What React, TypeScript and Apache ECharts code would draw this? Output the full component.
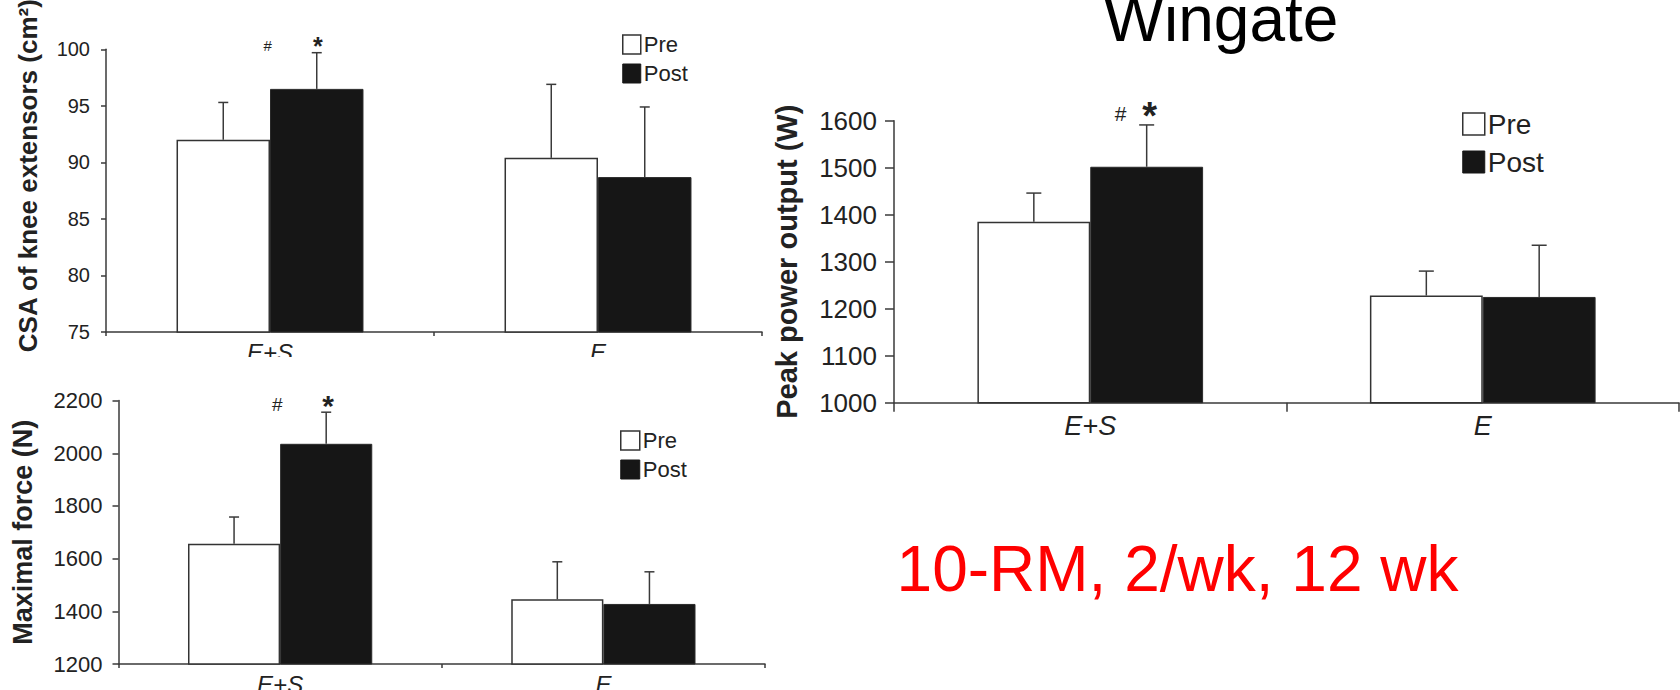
import React, { useEffect, useRef } from "react";
import * as echarts from "echarts";

// ---------- data ----------
const categories = ["E+S", "E"];
const groupNames = ["Pre", "Post"];

// Panel A: CSA of knee extensors (cm²)
const csaPre = [92.0, 90.4];
const csaPost = [96.5, 88.7];
const csaPreErrTop = [95.3, 96.9];
const csaPostErrTop = [99.7, 94.9];
const csaAxis = [75, 100, 5];

// Panel B: Maximal force (N)
const forcePre = [1657, 1446];
const forcePost = [2036, 1428];
const forcePreErrTop = [1758, 1588];
const forcePostErrTop = [2156, 1550];
const forceAxis = [1200, 2200, 200];

// Panel C: Wingate peak power output (W)
const powerPre = [1385, 1228];
const powerPost = [1502, 1225];
const powerPreErrTop = [1446, 1280];
const powerPostErrTop = [1591, 1335];
const powerAxis = [1000, 1600, 100];

// significance markers (per category, on the Post bar)
const hashMarks = ["#", ""];
const starMarks = ["*", ""];

const titleText = "Wingate";
const noteText = "10-RM, 2/wk, 12 wk";

const FONT = "'Liberation Sans', Arial, Helvetica, sans-serif";
const INK = "#222";
const LINE = "#3a3a3a";

type Panel = {
  pre: number[];
  post: number[];
  preTop: number[];
  postTop: number[];
  axis: number[];
  yName: string;
  grid: { left: number; top: number; width: number; height: number };
  gap: number;
  nameGap: number;
  nameSize: number;
  namePad: number[];
  tickSize: number;
  tickMargin: number;
  yTickLen: number;
  xTickLen: number;
  xSize: number;
  xMargin: number;
  legend: { left: number; top: number; w: number; h: number; gap: number; size: number };
  cap: number;
  hash: { dx: number; dy: number; size: number };
  star: { dx: number; dy: number; size: number };
};

const panels: Panel[] = [
  {
    pre: csaPre, post: csaPost, preTop: csaPreErrTop, postTop: csaPostErrTop, axis: csaAxis,
    yName: "CSA of knee extensors (cm²)",
    grid: { left: 106, top: 49.3, width: 656, height: 282.7 },
    gap: 0.43, nameGap: 65, nameSize: 26, namePad: [0, 0, 0, 30],
    tickSize: 20, tickMargin: 16, yTickLen: 5, xTickLen: 4, xSize: 24, xMargin: 8,
    legend: { left: 622, top: 33.5, w: 18, h: 19, gap: 7, size: 22 },
    cap: 10,
    hash: { dx: -49, dy: -7, size: 15 },
    star: { dx: 1, dy: -7, size: 25 },
  },
  {
    pre: forcePre, post: forcePost, preTop: forcePreErrTop, postTop: forcePostErrTop, axis: forceAxis,
    yName: "Maximal force (N)",
    grid: { left: 118.5, top: 400.6, width: 646.5, height: 263.4 },
    gap: 0.43, nameGap: 82, nameSize: 27, namePad: [0, 0, 0, 0],
    tickSize: 22, tickMargin: 16, yTickLen: 6, xTickLen: 4, xSize: 24, xMargin: 8,
    legend: { left: 620, top: 429.5, w: 19, h: 19, gap: 7, size: 22 },
    cap: 10,
    hash: { dx: -49, dy: -8, size: 19 },
    star: { dx: 2, dy: -7, size: 30 },
  },
  {
    pre: powerPre, post: powerPost, preTop: powerPreErrTop, postTop: powerPostErrTop, axis: powerAxis,
    yName: "Peak power output (W)",
    grid: { left: 894, top: 120.7, width: 785, height: 282 },
    gap: 0.425, nameGap: 93, nameSize: 29, namePad: [0, 0, 0, 0],
    tickSize: 26, tickMargin: 17, yTickLen: 9, xTickLen: 9, xSize: 27, xMargin: 10,
    legend: { left: 1462, top: 110, w: 22, h: 22, gap: 10, size: 28 },
    cap: 15,
    hash: { dx: -26, dy: -11, size: 21 },
    star: { dx: 3, dy: -9, size: 38 },
  },
];

function errorSeries(p: Panel, idx: number, side: number, tops: number[], means: number[], marks: boolean) {
  return {
    type: "custom",
    name: (side < 0 ? "Pre" : "Post") + " error " + idx,
    xAxisIndex: idx,
    yAxisIndex: idx,
    z: 5,
    silent: true,
    encode: { x: 0, y: [1, 2] },
    data: means.map((m, i) => [i, m, tops[i]]),
    renderItem: (params: any, api: any) => {
      const ci = api.value(0);
      const mean = api.value(1);
      const top = api.value(2);
      const base = api.coord([ci, mean]);
      const t = api.coord([ci, top]);
      const band = api.size([1, 0])[0];
      const bw = (band * (1 - p.gap)) / 2;
      const x = base[0] + (side * bw) / 2;
      const lineStyle = { stroke: LINE, lineWidth: 1.5 };
      const children: any[] = [
        { type: "line", shape: { x1: x, y1: base[1], x2: x, y2: t[1] }, style: lineStyle },
        { type: "line", shape: { x1: x - p.cap / 2, y1: t[1], x2: x + p.cap / 2, y2: t[1] }, style: lineStyle },
      ];
      if (marks) {
        const h = hashMarks[params.dataIndex];
        const s = starMarks[params.dataIndex];
        if (h) {
          children.push({
            type: "text",
            x: x + p.hash.dx,
            y: t[1] + p.hash.dy,
            style: { text: h, fill: INK, fontSize: p.hash.size, fontFamily: FONT, align: "center", verticalAlign: "middle" },
          });
        }
        if (s) {
          children.push({
            type: "text",
            x: x + p.star.dx,
            y: t[1] + p.star.dy,
            style: { text: s, fill: INK, fontSize: p.star.size, fontWeight: "bold", fontFamily: FONT, align: "center", verticalAlign: "middle" },
          });
        }
      }
      return { type: "group", children };
    },
  };
}

function buildOption() {
  const grid: any[] = [];
  const xAxis: any[] = [];
  const yAxis: any[] = [];
  const legend: any[] = [];
  const series: any[] = [];
  panels.forEach((p, i) => {
    grid.push({ ...p.grid, containLabel: false, outerBoundsMode: "none" });
    xAxis.push({
      type: "category",
      gridIndex: i,
      data: categories,
      axisLine: { show: true, lineStyle: { color: LINE, width: 1.5 } },
      axisTick: { show: true, length: p.xTickLen, lineStyle: { color: LINE, width: 1.5 } },
      axisLabel: { fontSize: p.xSize, fontStyle: "italic", color: INK, margin: p.xMargin, fontFamily: FONT },
      splitLine: { show: false },
    });
    yAxis.push({
      type: "value",
      gridIndex: i,
      min: p.axis[0],
      max: p.axis[1],
      interval: p.axis[2],
      name: p.yName,
      nameLocation: "middle",
      nameRotate: 90,
      nameGap: p.nameGap,
      nameTextStyle: { fontSize: p.nameSize, fontWeight: "bold", color: INK, fontFamily: FONT, padding: p.namePad },
      axisLine: { show: true, lineStyle: { color: LINE, width: 1.5 } },
      axisTick: { show: true, length: p.yTickLen, lineStyle: { color: LINE, width: 1.5 } },
      axisLabel: {
        fontSize: p.tickSize,
        color: INK,
        margin: p.tickMargin,
        fontFamily: FONT,
        showMinLabel: true,
        showMaxLabel: true,
        formatter: (v: number) => String(v),
      },
      splitLine: { show: false },
    });
    legend.push({
      orient: "vertical",
      left: p.legend.left,
      top: p.legend.top,
      padding: 0,
      itemWidth: p.legend.w,
      itemHeight: p.legend.h,
      itemGap: p.legend.gap,
      icon: "rect",
      selectedMode: false,
      textStyle: { fontSize: p.legend.size, color: INK, fontFamily: FONT, padding: [0, 0, 0, -2] },
      data: [
        { name: groupNames[0], itemStyle: { color: "#ffffff", borderColor: "#333", borderWidth: 1.5 } },
        { name: groupNames[1], itemStyle: { color: "#161616", borderColor: "#161616", borderWidth: 1 } },
      ],
    });
    series.push({
      type: "bar",
      name: groupNames[0],
      xAxisIndex: i,
      yAxisIndex: i,
      data: p.pre,
      barGap: "0%",
      barCategoryGap: p.gap * 100 + "%",
      itemStyle: { color: "#ffffff", borderColor: "#333", borderWidth: 1.5 },
      emphasis: { disabled: true },
    });
    series.push({
      type: "bar",
      name: groupNames[1],
      xAxisIndex: i,
      yAxisIndex: i,
      data: p.post,
      barGap: "0%",
      barCategoryGap: p.gap * 100 + "%",
      itemStyle: { color: "#161616", borderColor: "#2a2a2a", borderWidth: 1 },
      emphasis: { disabled: true },
    });
    series.push(errorSeries(p, i, -1, p.preTop, p.pre, false));
    series.push(errorSeries(p, i, 1, p.postTop, p.post, true));
  });

  return {
    animation: false,
    backgroundColor: "#ffffff",
    textStyle: { fontFamily: FONT },
    grid,
    xAxis,
    yAxis,
    legend,
    series,
    graphic: [
      {
        type: "text",
        x: 1221,
        y: 19,
        z: 100,
        style: { text: titleText, fill: "#000", fontSize: 64, fontFamily: FONT, align: "center", verticalAlign: "middle" },
      },
      {
        type: "text",
        x: 1177.5,
        y: 569,
        z: 100,
        style: { text: noteText, fill: "#ff0000", fontSize: 64, fontFamily: FONT, align: "center", verticalAlign: "middle" },
      },
      {
        // the top-left panel is cropped just below its category labels in the reference
        type: "rect",
        z: 100,
        shape: { x: 0, y: 357, width: 765, height: 22 },
        style: { fill: "#ffffff" },
        silent: true,
      },
    ],
  };
}

export default function App() {
  const ref = useRef<HTMLDivElement>(null);
  useEffect(() => {
    if (!ref.current) return;
    const chart = echarts.init(ref.current, null, { renderer: "svg" });
    chart.setOption(buildOption() as any);
    return () => chart.dispose();
  }, []);
  return (
    <div
      ref={ref}
      style={{ position: "fixed", left: 0, top: 0, width: 1680, height: 690, background: "#fff" }}
    />
  );
}
